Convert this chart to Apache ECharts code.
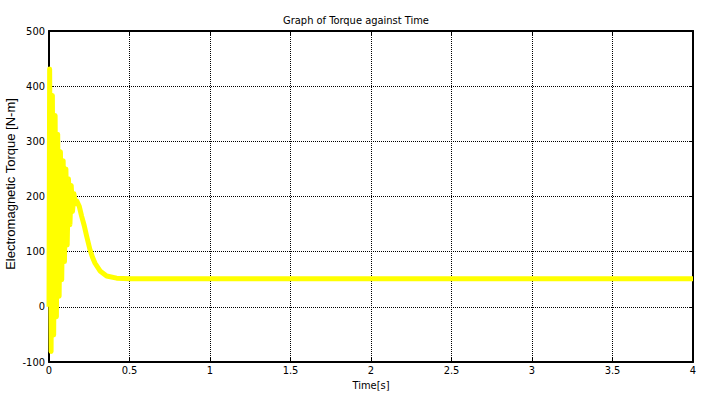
<!DOCTYPE html>
<html>
<head>
<meta charset="utf-8">
<script src="https://cdn.jsdelivr.net/npm/echarts@6/dist/echarts.min.js"></script>
<style>
  html, body { margin: 0; padding: 0; background: #fff; }
  #chart { width: 712px; height: 401px; }
</style>
</head>
<body>
<div id="chart"></div>
<script>
// Electromagnetic torque of the machine during start-up: a decaying
// supply-frequency oscillation, a hump near 0.17 s, then steady state.
const timeS = [
  0, 0.004, 0.013, 0.021, 0.029, 0.038, 0.046, 0.054, 0.063, 0.071,
  0.079, 0.088, 0.096, 0.105, 0.113, 0.121, 0.130, 0.138, 0.146, 0.155,
  0.163, 0.172, 0.188, 0.203, 0.219, 0.234, 0.255, 0.270, 0.286, 0.317,
  0.358, 0.420, 0.500, 1.0, 1.5, 2.0, 2.5, 3.0, 3.5, 4.0
];
const torqueNm = [
  0, 431, -81, 383, -51, 347, -18, 313, 19, 281,
  49, 265, 82, 250, 112, 232, 149, 220, 173, 205,
  187, 192, 182, 164, 147, 128, 103, 90, 79, 65,
  56, 52, 51, 51, 51, 51, 51, 51, 51, 51
];

const chartTitle = 'Graph of Torque against Time';
const xName = 'Time[s]';
const yName = 'Electromagnetic Torque [N-m]';

const narrow = '"Liberation Sans Narrow", "DejaVu Sans Condensed", "Liberation Sans", sans-serif';
const regular = '"Liberation Sans", Arial, sans-serif';

const chart = echarts.init(document.getElementById('chart'), null, { renderer: 'svg' });

const frameLine = { show: true, onZero: false, lineStyle: { color: '#000', width: 2 } };
const innerTick = { show: true, inside: true, length: 4, lineStyle: { color: '#000', width: 1 } };
const dotted = { show: true, lineStyle: { color: '#000', width: 1, type: [1, 1] } };

chart.setOption({
  animation: false,
  backgroundColor: '#fff',
  title: {
    text: chartTitle,
    left: 'center',
    top: 10,
    textStyle: { fontFamily: narrow, fontSize: 11, fontWeight: 'normal', color: '#000' }
  },
  // vertical axis title, set a little above the plot's middle
  graphic: [{
    type: 'text',
    x: 10,
    y: 184,
    rotation: Math.PI / 2,
    style: {
      text: yName,
      fontFamily: regular,
      fontSize: 13,
      fill: '#000',
      align: 'center',
      verticalAlign: 'middle'
    }
  }],
  grid: { left: 49, right: 19, top: 31, bottom: 39, containLabel: false, outerBoundsMode: 'none' },
  xAxis: [
    {
      type: 'value', min: 0, max: 4, interval: 0.5, position: 'bottom',
      name: xName, nameLocation: 'middle', nameGap: 18, nameMoveOverlap: false,
      nameTextStyle: { fontFamily: narrow, fontSize: 11, lineHeight: 11, color: '#000' },
      axisLine: frameLine, axisTick: innerTick,
      axisLabel: { fontFamily: narrow, fontSize: 11, lineHeight: 11, color: '#000', margin: 3 },
      splitLine: dotted
    },
    {
      type: 'value', min: 0, max: 4, interval: 0.5, position: 'top',
      axisLine: frameLine, axisTick: innerTick,
      axisLabel: { show: false }, splitLine: { show: false }
    }
  ],
  yAxis: [
    {
      type: 'value', min: -100, max: 500, interval: 100, position: 'left',
      axisLine: frameLine, axisTick: innerTick,
      axisLabel: { fontFamily: narrow, fontSize: 11, color: '#000', margin: 4 },
      splitLine: dotted
    },
    {
      type: 'value', min: -100, max: 500, interval: 100, position: 'right',
      axisLine: frameLine, axisTick: innerTick,
      axisLabel: { show: false }, splitLine: { show: false }
    }
  ],
  series: [{
    type: 'line',
    xAxisIndex: 0,
    yAxisIndex: 0,
    data: timeS.map((t, i) => [t, torqueNm[i]]),
    showSymbol: false,
    symbol: 'none',
    lineStyle: { color: '#ffff00', width: 5, join: 'round' },
    itemStyle: { color: '#ffff00' },
    clip: true
  }]
});
</script>
</body>
</html>
